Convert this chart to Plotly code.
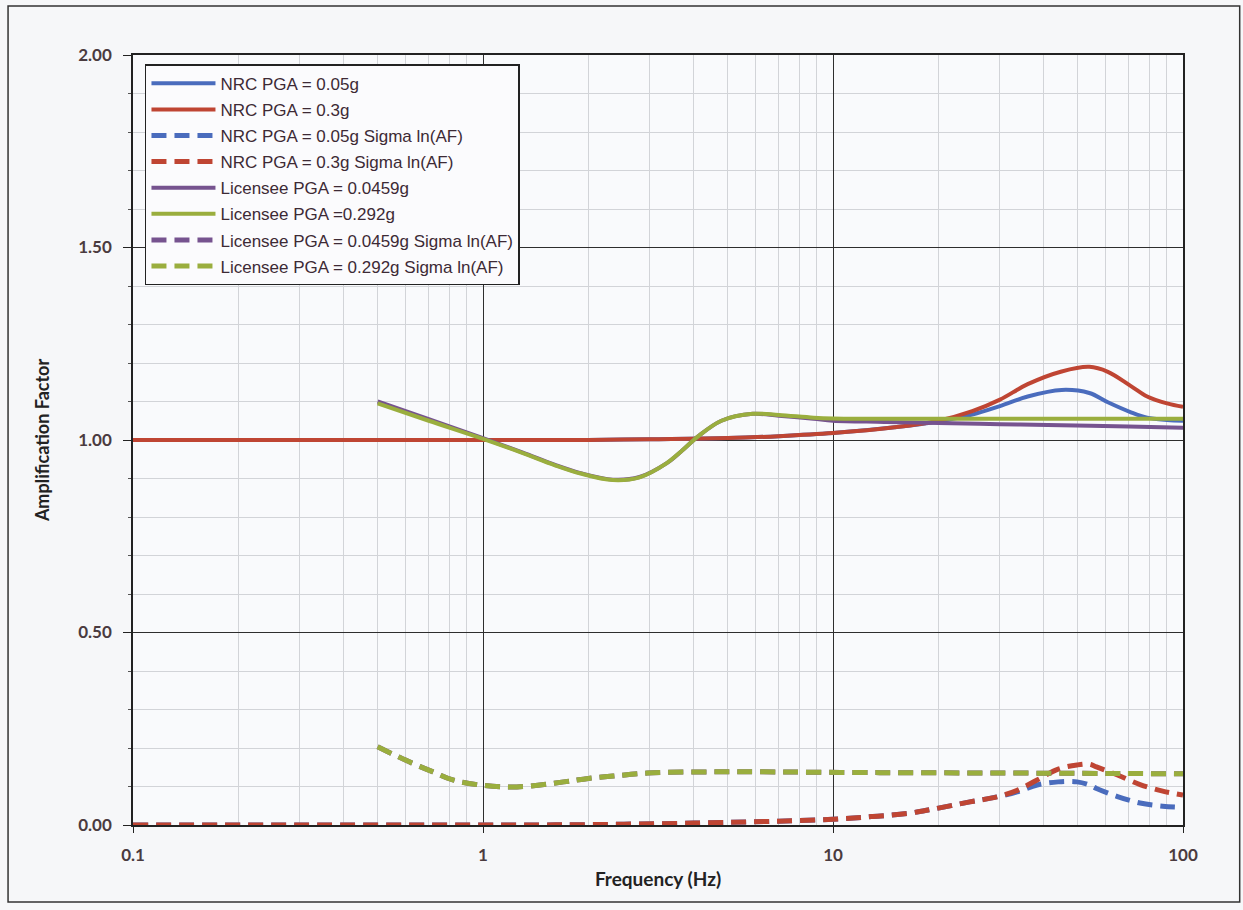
import plotly.graph_objects as go

# Frequency grids (Hz)
freq_nrc = [0.1, 0.2, 0.5, 1, 2, 3, 5, 7, 10, 15, 20, 25, 30, 36, 45, 54, 61, 71, 79, 90, 100]
freq_lic = [0.5, 0.7, 1.0, 1.3, 1.6, 1.9, 2.35, 2.8, 3.35, 3.7, 4.1, 4.8, 5.9, 7.0, 8.8, 10, 14, 20, 30, 45, 70, 100]
freq_nrc_sig = [0.1, 1, 2, 4, 7, 10, 13, 16.3, 19, 24.6, 29.4, 33.6, 38.3, 44, 49.8, 54, 56.6, 65, 75.4, 87.5, 100]
freq_lic_sig = [0.5, 0.63, 0.72, 0.82, 0.98, 1.25, 1.7, 2.0, 2.35, 2.95, 4.5, 6.3, 13.6, 30, 60, 100]

# Median amplification factors
nrc_005 = [1.0, 1.0, 1.0, 1.0, 1.0, 1.002, 1.005, 1.01, 1.018, 1.033, 1.048, 1.066, 1.088,
           1.113, 1.13, 1.122, 1.098, 1.072, 1.058, 1.052, 1.05]
nrc_03 = [1.0, 1.0, 1.0, 1.0, 1.0, 1.002, 1.005, 1.01, 1.018, 1.033, 1.05, 1.075, 1.105,
          1.145, 1.178, 1.19, 1.177, 1.14, 1.113, 1.095, 1.086]
lic_00459 = [1.10, 1.054, 1.005, 0.967, 0.936, 0.914, 0.897, 0.904, 0.94, 0.972, 1.008, 1.05,
             1.068, 1.063, 1.055, 1.05, 1.047, 1.044, 1.041, 1.038, 1.035, 1.032]
lic_0292 = [1.095, 1.05, 1.003, 0.966, 0.935, 0.913, 0.896, 0.903, 0.94, 0.972, 1.008, 1.05,
            1.068, 1.065, 1.058, 1.056, 1.055, 1.055, 1.055, 1.055, 1.055, 1.055]

# Sigma ln(AF)
nrc_005_sig = [0.0, 0.0, 0.001, 0.005, 0.01, 0.015, 0.022, 0.03, 0.04, 0.06, 0.073, 0.086,
               0.104, 0.112, 0.112, 0.104, 0.095, 0.074, 0.057, 0.049, 0.046]
nrc_03_sig = [0.0, 0.0, 0.001, 0.005, 0.01, 0.015, 0.022, 0.03, 0.04, 0.06, 0.073, 0.09,
              0.117, 0.145, 0.156, 0.158, 0.151, 0.13, 0.105, 0.088, 0.078]
lic_00459_sig = [0.203, 0.16, 0.138, 0.117, 0.104, 0.099, 0.112, 0.121, 0.127, 0.135, 0.138,
                 0.138, 0.136, 0.135, 0.134, 0.133]
lic_0292_sig = [0.203, 0.16, 0.138, 0.117, 0.104, 0.099, 0.112, 0.121, 0.127, 0.135, 0.138,
                0.138, 0.136, 0.135, 0.134, 0.133]

BLUE = "#4a6cbd"
RED = "#bf4533"
PURPLE = "#76538f"
GREEN = "#9aae3e"
DASH = "15px,8px"

series = [
    ("NRC PGA = 0.05g", freq_nrc, nrc_005, BLUE, "solid"),
    ("NRC PGA = 0.3g", freq_nrc, nrc_03, RED, "solid"),
    ("NRC PGA = 0.05g Sigma ln(AF)", freq_nrc_sig, nrc_005_sig, BLUE, DASH),
    ("NRC PGA = 0.3g Sigma ln(AF)", freq_nrc_sig, nrc_03_sig, RED, DASH),
    ("Licensee PGA = 0.0459g", freq_lic, lic_00459, PURPLE, "solid"),
    ("Licensee PGA =0.292g", freq_lic, lic_0292, GREEN, "solid"),
    ("Licensee PGA = 0.0459g Sigma ln(AF)", freq_lic_sig, lic_00459_sig, PURPLE, DASH),
    ("Licensee PGA = 0.292g Sigma ln(AF)", freq_lic_sig, lic_0292_sig, GREEN, DASH),
]

fig = go.Figure()
for i, (name, fx, fy, color, dash) in enumerate(series):
    fig.add_trace(go.Scatter(
        x=fx, y=fy, name=name, mode="lines",
        line=dict(color=color, width=4 if dash == "solid" else 5, dash=dash,
                  shape="spline", smoothing=1.0),
        legendgroup=f"g{i}",
    ))

TXT = "#4a3b3f"
fig.update_layout(
    width=1243, height=910,
    margin=dict(l=133, r=60, t=55, b=85),
    paper_bgcolor="#f6f7f9",
    plot_bgcolor="#f9fafc",
    font=dict(family="Lato, Liberation Sans, Arial", color=TXT),
    showlegend=True,
    legend=dict(
        x=0.0114, y=0.988, xanchor="left", yanchor="top",
        bgcolor="#fbfbfd", bordercolor="#222222", borderwidth=1.5,
        font=dict(family="Liberation Sans, Arial", size=17, color="#3d2a35"),
        tracegroupgap=1, itemwidth=64,
    ),
    xaxis=dict(
        type="log", range=[-1, 2],
        tickvals=[0.1, 1, 10, 100], ticktext=["0.1", "1", "10", "100"],
        showgrid=True, gridcolor="#2e2e2e", gridwidth=1,
        minor=dict(tickvals=[v * d for d in (0.1, 1, 10) for v in range(2, 10)],
                   showgrid=True, gridcolor="#d2d4d8", gridwidth=1),
        showline=True, linecolor="#222222", linewidth=1.5, mirror=True,
        ticks="outside", ticklen=6, tickcolor="#222222", ticklabelstandoff=8,
        tickfont=dict(family="Lato", size=17, color=TXT, weight="bold"),
        title=dict(text="Frequency (Hz)", font=dict(family="Lato", size=19, color="#222222", weight="bold"),
                   standoff=9),
        zeroline=False,
    ),
    yaxis=dict(
        range=[0, 2], dtick=0.5, tickformat=".2f",
        showgrid=True, gridcolor="#2e2e2e", gridwidth=1,
        minor=dict(dtick=0.1, showgrid=True, gridcolor="#d2d4d8", gridwidth=1,
                   ticks="outside", ticklen=3, tickcolor="#555555"),
        showline=True, linecolor="#222222", linewidth=1.5, mirror=True,
        ticks="outside", ticklen=8, tickcolor="#222222", ticklabelstandoff=8,
        tickfont=dict(family="Lato", size=17, color=TXT, weight="bold"),
        title=dict(text="Amplification Factor", font=dict(family="Lato", size=18, color="#222222", weight="bold"),
                   standoff=24),
        zeroline=False,
    ),
    shapes=[dict(type="rect", xref="paper", yref="paper",
                 x0=-0.119, x1=1.054, y0=-0.1, y1=1.0636,
                 line=dict(color="#333333", width=1.5), fillcolor="rgba(0,0,0,0)", layer="below")],
)

fig.write_html("out.html")
